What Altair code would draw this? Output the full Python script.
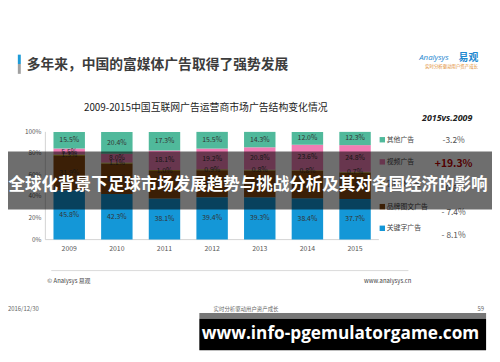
import altair as alt
import pandas as pd

# ---------------- data ----------------
years = ["2009", "2010", "2011", "2012", "2013", "2014", "2015"]
keyword_ads = [45.8, 42.3, 38.1, 39.4, 39.3, 38.4, 37.7]   # 关键字广告
brand_ads = [31.9, 28.2, 25.5, 25.0, 24.8, 25.2, 24.5]     # 品牌图文广告
richmedia_ads = [1.3, 1.1, 1.0, 0.9, 0.8, 0.8, 0.7]        # 富媒体广告
video_ads = [5.5, 8.0, 18.1, 19.2, 20.8, 23.6, 24.8]       # 视频广告
other_ads = [15.5, 20.4, 17.3, 15.5, 14.3, 12.0, 12.3]     # 其他广告
series_names = ["关键字广告", "品牌图文广告", "富媒体广告", "视频广告", "其他广告"]  # bottom -> top
change_labels = ["- 8.1%", "- 7.4%", "-0.6%", "+19.3%", "-3.2%"]  # 2015 vs 2009, same order
y_ticks = [0, 20, 40, 60, 80, 100]

# ---------------- styles ----------------
colors = ["#1497D7", "#8A480E", "#BA9A28", "#F07DB4", "#50B99B"]
CJK = "Noto Sans CJK SC"

series_values = [keyword_ads, brand_ads, richmedia_ads, video_ads, other_ads]
rows = []
for i, yr in enumerate(years):
    base = 0.0
    for name, vals in zip(series_names, series_values):
        v = vals[i]
        rows.append({"year": yr, "series": name, "start": base, "end": base + v,
                     "mid": base + v / 2, "label": f"{v:.1f}%"})
        base += v
df = pd.DataFrame(rows)

xs = alt.Scale(domain=years, range=[38, 377], paddingInner=0.34, paddingOuter=0.17)
ys = alt.Scale(domain=[0, 100], range=[232.5, 123], nice=False, zero=False)
cs = alt.Scale(domain=series_names, range=colors)

one = pd.DataFrame({"k": [0]})


def txt(s, x, y, size, color="#333", weight="normal", align="left", font=CJK,
        style="normal", baseline="middle"):
    return alt.Chart(one).mark_text(
        text=s, fontSize=size, color=color, fontWeight=weight, align=align,
        font=font, fontStyle=style, baseline=baseline
    ).encode(x=alt.value(x), y=alt.value(y))


def box(x1, x2, y1, y2, color, opacity=1.0):
    return alt.Chart(one).mark_rect(color=color, opacity=opacity).encode(
        x=alt.value(x1), x2=alt.value(x2), y=alt.value(y1), y2=alt.value(y2))


layers = []

# header
layers.append(box(10, 13, 44.5, 54, "#1E9BD7"))
layers.append(box(10, 13, 54, 64, "#A0A0A0"))
layers.append(txt("多年来，中国的富媒体广告取得了强势发展", 19, 55, 14, "#3C3C3C", "bold"))
layers.append(txt("Analysys", 418, 48, 8, "#1E88CF", "normal", style="italic", font="Open Sans"))
layers.append(txt("易观", 458, 48, 10, "#1E88CF", "bold"))
layers.append(txt("实时分析驱动用户资产成长", 424, 57.5, 4.5, "#E08A2C"))

# chart titles
layers.append(txt("2009-2015中国互联网广告运营商市场广告结构变化情况", 201, 99, 10, "#222", align="center"))
layers.append(txt("2015vs.2009", 472, 109, 9, "#222", "bold", align="right",
                  style="italic", font="Open Sans"))

# axes (drawn through scales)
axis_df = pd.DataFrame({"a": [0], "b": [100]})
layers.append(alt.Chart(axis_df).mark_rule(color="#C8C8C8", strokeWidth=0.8).encode(
    x=alt.value(38), y=alt.Y("a:Q", scale=ys, axis=None), y2="b:Q"))
layers.append(alt.Chart(axis_df).mark_rule(color="#C8C8C8", strokeWidth=0.8).encode(
    y=alt.Y("a:Q", scale=ys, axis=None), x=alt.value(38), x2=alt.value(377)))

tick_df = pd.DataFrame({"v": y_ticks, "t": [f"{v}%" for v in y_ticks]})
layers.append(alt.Chart(tick_df).mark_text(align="right", baseline="middle", fontSize=6.5,
                                           color="#555", font=CJK).encode(
    y=alt.Y("v:Q", scale=ys, axis=None), x=alt.value(34), text="t:N"))
year_df = pd.DataFrame({"year": years})
layers.append(alt.Chart(year_df).mark_text(baseline="middle", fontSize=7, color="#555",
                                           font=CJK).encode(
    x=alt.X("year:N", scale=xs, axis=None), y=alt.value(242), text="year:N"))

# bars
layers.append(alt.Chart(df).mark_bar(strokeWidth=0).encode(
    x=alt.X("year:N", scale=xs, axis=None),
    y=alt.Y("start:Q", scale=ys, axis=None), y2="end:Q",
    color=alt.Color("series:N", scale=cs, legend=None)))
layers.append(alt.Chart(df).mark_text(fontSize=7, color="#333", font=CJK, baseline="middle").encode(
    x=alt.X("year:N", scale=xs, axis=None),
    y=alt.Y("mid:Q", scale=ys, axis=None), text="label:N"))

# legend + change column (top -> bottom)
leg_y = [131, 153.5, 176, 199, 221]
chg_y = [131, 156, 180, 204, 228]
for j, idx in enumerate([4, 3, 2, 1, 0]):
    layers.append(alt.Chart(one).mark_square(size=30, color=colors[idx], opacity=1).encode(
        x=alt.value(380.5), y=alt.value(leg_y[j])))
    layers.append(txt(series_names[idx], 385, leg_y[j], 7, "#444"))
    if idx == 3:
        layers.append(txt(change_labels[idx], 453, chg_y[j], 10.5, "#C00000", "bold", align="center"))
    else:
        layers.append(txt(change_labels[idx], 453, chg_y[j], 8.5, "#555", align="center"))

# footer
layers.append(alt.Chart(one).mark_rule(color="#D0D0D0", strokeWidth=0.8).encode(
    x=alt.value(44), x2=alt.value(407), y=alt.value(264)))
layers.append(txt("© Analysys 易观", 40, 275, 6, "#444"))
layers.append(txt("www.analysys.cn", 410, 275, 6, "#444", align="right"))
layers.append(txt("2016/12/30", 0, 303, 6, "#666"))
layers.append(txt("实时分析驱动用户资产成长", 209, 303, 5.5, "#666"))
layers.append(txt("59", 484, 303, 6, "#666", align="right"))

# overlay banner
layers.append(box(0, 492, 143, 202, "#000000", 0.57))
layers.append(txt("全球化背景下足球市场发展趋势与挑战分析及其对各国经济的影响", 244, 177, 16.8,
                  "#FFFFFF", "bold", align="center"))

# watermark box
layers.append(box(194.5, 486, 307, 313, "#777777"))
layers.append(box(194.5, 486, 313, 345, "#000000"))
layers.append(txt("www.info-pgemulatorgame.com", 338, 329, 17.5, "#FFFFFF", "bold",
                  align="center", font="Open Sans"))

chart = alt.layer(*layers).properties(
    width=492, height=354, padding=0, autosize=alt.AutoSizeParams(type="none"),
    background="#FFFFFF"
).configure_view(stroke=None)

chart.save("out.html", embed_options={"renderer": "svg", "actions": False})
